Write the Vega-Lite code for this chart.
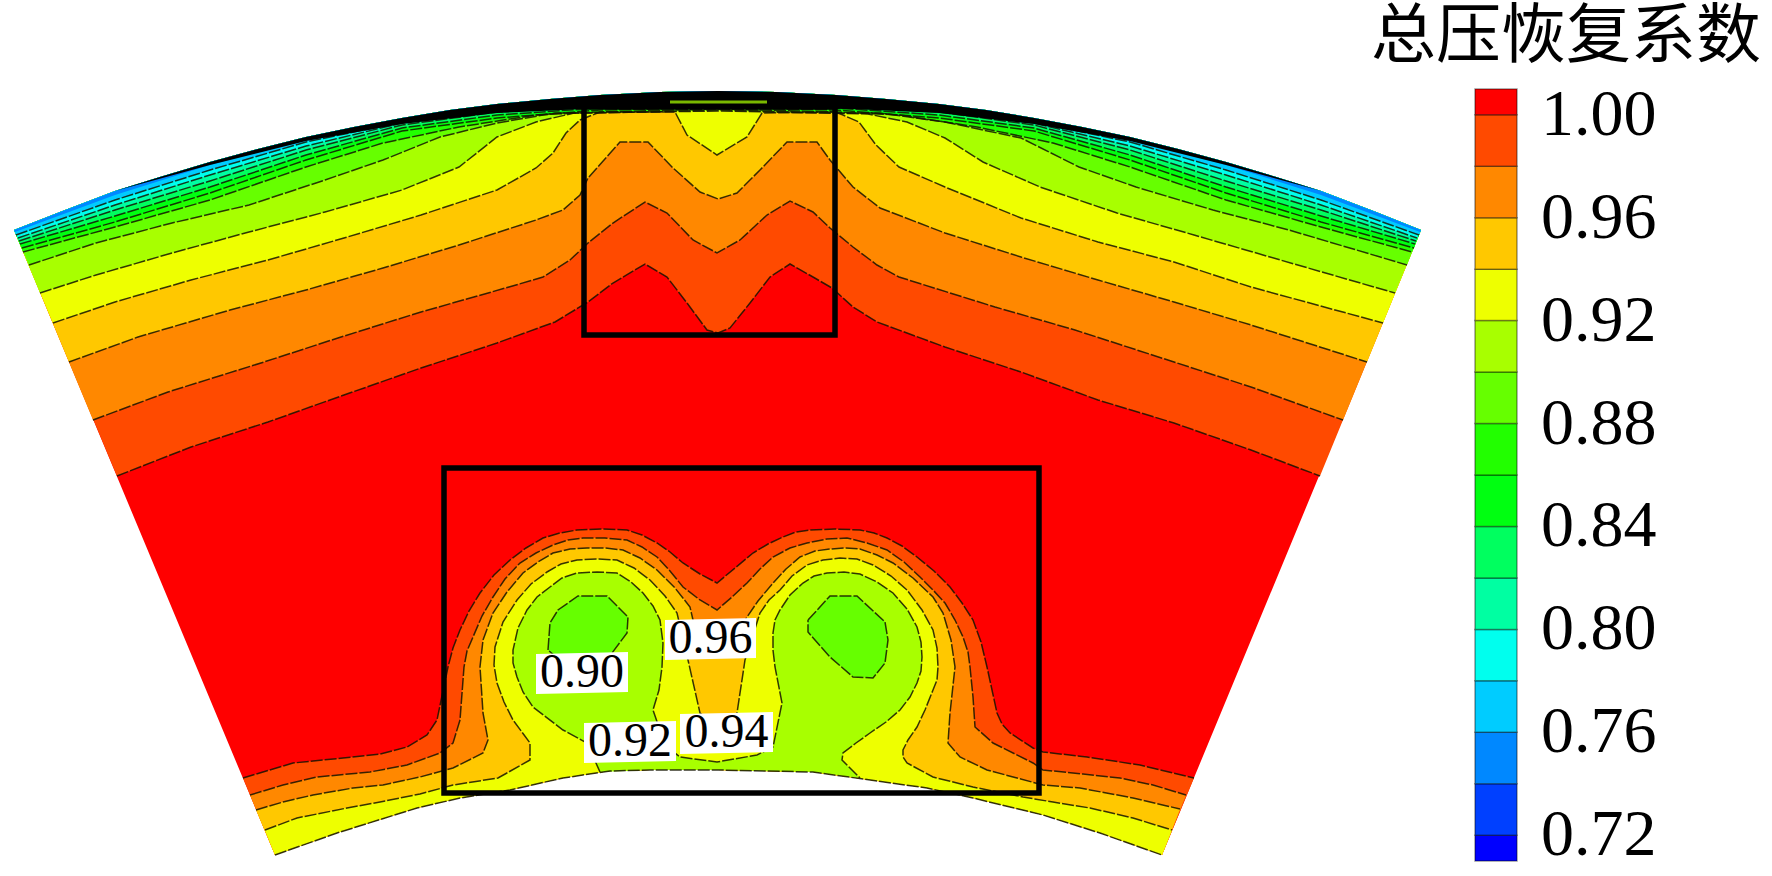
{
"$schema":"https://vega.github.io/schema/vega-lite/v6.json",
"width":1772,"height":876,"padding":0,"autosize":{"type":"none"},"background":"#ffffff",
"config":{"view":{"stroke":null}},
"projection":{"type":"identity","scale":1,"translate":[0,0]},
"layer":[
{"data":{"values":[
{"type":"Feature","properties":{"level":1.005},"geometry":{"type":"Polygon","coordinates":[[[275,855],[14,230],[60,212],[115,191],[160,177],[210,162],[258,149],[306,137],[354,127],[402,118],[450,110],[497,104],[550,99],[600,95],[660,92],[718,91],[776,92],[836,95],[886,99],[939,104],[986,110],[1034,118],[1082,127],[1130,137],[1178,149],[1226,162],[1276,177],[1321,191],[1376,212],[1421,230],[1162,855],[1100,833],[1043,815],[973,798],[927,788],[813,772],[718,770],[650,770],[610,771],[563,778],[510,790],[460,798],[417,808],[337,833],[275,855]]]}},
{"type":"Feature","properties":{"level":0.99},"geometry":{"type":"Polygon","coordinates":[[[117,476],[191,447],[268,422],[344,395],[421,368],[497,343],[555,322],[588,302],[613,283],[645,264],[667,277],[687,303],[707,330],[718,333],[730,328],[750,303],[770,277],[790,264],[813,277],[832,288],[853,307],[877,322],[945,347],[1021,372],[1098,400],[1174,423],[1251,450],[1320,476],[1421,230],[1376,212],[1321,191],[1276,177],[1226,162],[1178,149],[1130,137],[1082,127],[1034,118],[986,110],[939,104],[886,99],[836,95],[776,92],[718,91],[660,92],[600,95],[550,99],[497,104],[450,110],[402,118],[354,127],[306,137],[258,149],[210,162],[160,177],[115,191],[60,212],[14,230],[117,476]]]}},
{"type":"Feature","properties":{"level":0.99},"geometry":{"type":"Polygon","coordinates":[[[243,778],[293,763],[343,758],[380,754],[407,747],[427,735],[437,720],[448,667],[453,648],[460,630],[469,611],[480,593],[494,575],[510,560],[526,548],[543,538],[560,533],[577,530],[602,529],[627,530],[642,535],[657,543],[670,552],[683,563],[700,574],[717,583],[735,568],[753,553],[768,544],[783,537],[796,532],[810,530],[835,529],[860,530],[874,533],[887,538],[902,546],[917,557],[934,571],[950,587],[962,603],[973,620],[981,642],[987,667],[992,690],[997,713],[1002,724],[1010,733],[1033,748],[1043,752],[1087,757],[1140,765],[1194,778],[1162,855],[1100,833],[1043,815],[973,798],[927,788],[813,772],[718,770],[650,770],[610,771],[563,778],[510,790],[460,798],[417,808],[337,833],[275,855],[243,778]]]}},
{"type":"Feature","properties":{"level":0.97},"geometry":{"type":"Polygon","coordinates":[[[93,420],[168,392],[264,362],[341,337],[421,312],[509,287],[543,277],[570,260],[588,243],[613,223],[645,202],[667,213],[693,240],[717,253],[740,240],[767,215],[790,201],[813,212],[830,228],[853,247],[877,265],[899,277],[995,307],[1075,330],[1174,362],[1251,387],[1343,420],[1421,230],[1376,212],[1321,191],[1276,177],[1226,162],[1178,149],[1130,137],[1082,127],[1034,118],[986,110],[939,104],[886,99],[836,95],[776,92],[718,91],[660,92],[600,95],[550,99],[497,104],[450,110],[402,118],[354,127],[306,137],[258,149],[210,162],[160,177],[115,191],[60,212],[14,230],[93,420]]]}},
{"type":"Feature","properties":{"level":0.97},"geometry":{"type":"Polygon","coordinates":[[[250,795],[283,785],[317,777],[370,772],[407,765],[440,753],[453,743],[460,720],[464,667],[467,651],[473,637],[482,616],[493,597],[505,579],[520,563],[536,553],[553,545],[568,540],[583,538],[605,538],[627,540],[642,547],[657,557],[670,571],[683,587],[700,600],[717,610],[732,597],[747,583],[760,569],[773,557],[790,548],[807,543],[827,539],[847,538],[867,543],[887,550],[904,562],[920,577],[933,590],[945,603],[955,620],[963,637],[968,652],[970,667],[973,697],[975,727],[993,743],[1033,763],[1043,770],[1083,774],[1120,778],[1153,785],[1186,795],[1162,855],[1100,833],[1043,815],[973,798],[927,788],[813,772],[718,770],[650,770],[610,771],[563,778],[510,790],[460,798],[417,808],[337,833],[275,855],[250,795]]]}},
{"type":"Feature","properties":{"level":0.95},"geometry":{"type":"Polygon","coordinates":[[[69,362],[138,337],[230,310],[306,290],[383,268],[459,245],[536,220],[563,210],[580,195],[588,178],[620,142],[648,142],[673,168],[700,192],[718,199],[737,193],[760,170],[787,142],[817,142],[830,160],[853,187],[880,208],[945,233],[1021,257],[1098,280],[1174,302],[1251,325],[1367,362],[1421,230],[1376,212],[1321,191],[1276,177],[1226,162],[1178,149],[1130,137],[1082,127],[1034,118],[986,110],[939,104],[886,99],[836,95],[776,92],[718,91],[660,92],[600,95],[550,99],[497,104],[450,110],[402,118],[354,127],[306,137],[258,149],[210,162],[160,177],[115,191],[60,212],[14,230],[69,362]]]}},
{"type":"Feature","properties":{"level":0.95},"geometry":{"type":"Polygon","coordinates":[[[256,810],[283,802],[313,795],[353,788],[383,785],[420,777],[453,768],[483,753],[488,740],[483,713],[480,667],[483,640],[493,613],[507,592],[523,573],[538,562],[553,553],[570,549],[587,548],[605,548],[623,550],[640,558],[657,570],[675,588],[690,607],[693,620],[697,640],[717,647],[738,640],[745,620],[758,601],[773,583],[786,569],[800,557],[815,551],[830,549],[845,548],[860,549],[877,555],[893,563],[913,578],[933,597],[943,613],[951,640],[955,667],[950,713],[948,743],[960,757],[987,770],[1017,778],[1043,785],[1080,788],[1133,798],[1180,809],[1162,855],[1100,833],[1043,815],[973,798],[927,788],[813,772],[718,770],[650,770],[610,771],[563,778],[510,790],[460,798],[417,808],[337,833],[275,855],[256,810]]]}},
{"type":"Feature","properties":{"level":0.93},"geometry":{"type":"Polygon","coordinates":[[[53,323],[115,302],[191,280],[268,260],[344,238],[421,215],[497,190],[536,168],[553,153],[566,133],[580,120],[600,112],[675,112],[687,135],[717,155],[747,137],[762,113],[836,112],[859,122],[876,145],[899,167],[945,187],[1021,218],[1098,242],[1174,262],[1251,287],[1383,323],[1421,230],[1376,212],[1321,191],[1276,177],[1226,162],[1178,149],[1130,137],[1082,127],[1034,118],[986,110],[939,104],[886,99],[836,95],[776,92],[718,91],[660,92],[600,95],[550,99],[497,104],[450,110],[402,118],[354,127],[306,137],[258,149],[210,162],[160,177],[115,191],[60,212],[14,230],[53,323]]]}},
{"type":"Feature","properties":{"level":0.93},"geometry":{"type":"Polygon","coordinates":[[[265,830],[297,818],[347,808],[380,802],[420,794],[453,785],[498,778],[530,760],[530,743],[513,720],[504,702],[497,683],[494,665],[495,647],[503,622],[517,600],[531,584],[547,572],[561,564],[577,560],[597,559],[617,560],[634,568],[650,580],[665,596],[677,613],[688,660],[700,713],[717,727],[737,713],[745,660],[760,613],[769,600],[780,590],[792,576],[807,565],[823,560],[840,558],[857,559],[873,565],[891,576],[907,590],[922,610],[933,630],[937,648],[938,667],[937,680],[933,690],[925,710],[917,727],[908,740],[903,750],[903,757],[907,763],[933,777],[973,787],[1023,797],[1053,802],[1090,808],[1133,818],[1172,830],[1162,855],[1100,833],[1043,815],[973,798],[927,788],[813,772],[718,770],[650,770],[610,771],[563,778],[510,790],[460,798],[417,808],[337,833],[275,855],[265,830]]]}},
{"type":"Feature","properties":{"level":0.91},"geometry":{"type":"Polygon","coordinates":[[[40,293],[96,275],[172,253],[249,232],[325,212],[402,190],[459,167],[497,137],[536,122],[574,113],[718,111],[868,114],[907,122],[945,138],[983,162],[1040,187],[1117,213],[1194,235],[1270,257],[1395,293],[1421,230],[1376,212],[1321,191],[1276,177],[1226,162],[1178,149],[1130,137],[1082,127],[1034,118],[986,110],[939,104],[886,99],[836,95],[776,92],[718,91],[660,92],[600,95],[550,99],[497,104],[450,110],[402,118],[354,127],[306,137],[258,149],[210,162],[160,177],[115,191],[60,212],[14,230],[40,293]]]}},
{"type":"Feature","properties":{"level":0.91},"geometry":{"type":"Polygon","coordinates":[[[600,772],[587,743],[563,730],[533,707],[523,692],[517,677],[513,663],[513,650],[518,628],[527,610],[537,597],[550,587],[562,578],[577,573],[597,572],[617,573],[631,582],[643,593],[653,606],[660,620],[663,643],[662,667],[659,690],[653,710],[665,745],[680,757],[717,762],[757,755],[773,747],[782,703],[775,667],[773,650],[773,633],[775,620],[780,610],[790,595],[803,583],[814,576],[827,573],[844,572],[860,574],[877,582],[893,593],[907,609],[917,627],[921,642],[922,657],[921,671],[917,683],[910,697],[900,710],[886,722],[870,733],[856,743],[843,753],[842,760],[847,765],[860,778],[813,772],[718,770],[650,770],[600,772]]]}},
{"type":"Feature","properties":{"level":0.89},"geometry":{"type":"Polygon","coordinates":[[[29,265],[96,243],[172,223],[249,205],[325,180],[383,160],[440,137],[497,123],[555,113],[600,113],[718,110],[836,113],[880,113],[945,122],[1021,138],[1079,167],[1136,187],[1213,210],[1289,230],[1407,265],[1421,230],[1376,212],[1321,191],[1276,177],[1226,162],[1178,149],[1130,137],[1082,127],[1034,118],[986,110],[939,104],[886,99],[836,95],[776,92],[718,91],[660,92],[600,95],[550,99],[497,104],[450,110],[402,118],[354,127],[306,137],[258,149],[210,162],[160,177],[115,191],[60,212],[14,230],[29,265]]]}},
{"type":"Feature","properties":{"level":0.89},"geometry":{"type":"Polygon","coordinates":[[[548,650],[550,623],[558,610],[578,596],[607,596],[628,617],[627,633],[612,653],[590,663],[563,663],[548,650]]]}},
{"type":"Feature","properties":{"level":0.89},"geometry":{"type":"Polygon","coordinates":[[[808,620],[830,596],[857,596],[885,622],[888,640],[885,663],[873,678],[853,677],[830,657],[808,632],[808,620]]]}},
{"type":"Feature","properties":{"level":0.87},"geometry":{"type":"Polygon","coordinates":[[[23,252],[115,227],[210,200],[306,167],[383,143],[459,127],[536,115],[600,112],[718,109],[836,112],[900,115],[977,127],[1053,143],[1130,167],[1226,200],[1321,227],[1412,252],[1421,230],[1376,212],[1321,191],[1276,177],[1226,162],[1178,149],[1130,137],[1082,127],[1034,118],[986,110],[939,104],[886,99],[836,95],[776,92],[718,91],[660,92],[600,95],[550,99],[497,104],[450,110],[402,118],[354,127],[306,137],[258,149],[210,162],[160,177],[115,191],[60,212],[14,230],[23,252]]]}},
{"type":"Feature","properties":{"level":0.85},"geometry":{"type":"Polygon","coordinates":[[[22,248],[115,222],[210,193],[306,160],[402,131],[497,118],[600,110],[718,108],[836,110],[939,118],[1034,131],[1130,160],[1226,193],[1321,222],[1414,248],[1421,230],[1376,212],[1321,191],[1276,177],[1226,162],[1178,149],[1130,137],[1082,127],[1034,118],[986,110],[939,104],[886,99],[836,95],[776,92],[718,91],[660,92],[600,95],[550,99],[497,104],[450,110],[402,118],[354,127],[306,137],[258,149],[210,162],[160,177],[115,191],[60,212],[14,230],[22,248]]]}},
{"type":"Feature","properties":{"level":0.83},"geometry":{"type":"Polygon","coordinates":[[[20,244],[115,216],[210,187],[306,155],[402,128],[497,115],[600,108],[718,106],[836,108],[939,115],[1034,128],[1130,155],[1226,187],[1321,216],[1415,244],[1421,230],[1376,212],[1321,191],[1276,177],[1226,162],[1178,149],[1130,137],[1082,127],[1034,118],[986,110],[939,104],[886,99],[836,95],[776,92],[718,91],[660,92],[600,95],[550,99],[497,104],[450,110],[402,118],[354,127],[306,137],[258,149],[210,162],[160,177],[115,191],[60,212],[14,230],[20,244]]]}},
{"type":"Feature","properties":{"level":0.81},"geometry":{"type":"Polygon","coordinates":[[[19,241],[115,210],[210,181],[306,150],[402,125],[497,112],[600,106],[718,104],[836,106],[939,112],[1034,125],[1130,150],[1226,181],[1321,210],[1416,241],[1421,230],[1376,212],[1321,191],[1276,177],[1226,162],[1178,149],[1130,137],[1082,127],[1034,118],[986,110],[939,104],[886,99],[836,95],[776,92],[718,91],[660,92],[600,95],[550,99],[497,104],[450,110],[402,118],[354,127],[306,137],[258,149],[210,162],[160,177],[115,191],[60,212],[14,230],[19,241]]]}},
{"type":"Feature","properties":{"level":0.79},"geometry":{"type":"Polygon","coordinates":[[[18,238],[115,205],[210,175],[306,146],[402,123],[497,110],[600,104],[718,102],[836,104],[939,110],[1034,123],[1130,146],[1226,175],[1321,205],[1417,238],[1421,230],[1376,212],[1321,191],[1276,177],[1226,162],[1178,149],[1130,137],[1082,127],[1034,118],[986,110],[939,104],[886,99],[836,95],[776,92],[718,91],[660,92],[600,95],[550,99],[497,104],[450,110],[402,118],[354,127],[306,137],[258,149],[210,162],[160,177],[115,191],[60,212],[14,230],[18,238]]]}},
{"type":"Feature","properties":{"level":0.77},"geometry":{"type":"Polygon","coordinates":[[[16,235],[115,200],[210,170],[306,142],[402,122],[497,108],[600,102],[718,100],[836,102],[939,108],[1034,122],[1130,142],[1226,170],[1321,200],[1419,235],[1421,230],[1376,212],[1321,191],[1276,177],[1226,162],[1178,149],[1130,137],[1082,127],[1034,118],[986,110],[939,104],[886,99],[836,95],[776,92],[718,91],[660,92],[600,95],[550,99],[497,104],[450,110],[402,118],[354,127],[306,137],[258,149],[210,162],[160,177],[115,191],[60,212],[14,230],[16,235]]]}},
{"type":"Feature","properties":{"level":0.75},"geometry":{"type":"Polygon","coordinates":[[[15,232],[115,195],[210,165],[306,139],[402,120],[497,106],[600,100],[718,98],[836,100],[939,106],[1034,120],[1130,139],[1226,165],[1321,195],[1420,232],[1421,230],[1376,212],[1321,191],[1276,177],[1226,162],[1178,149],[1130,137],[1082,127],[1034,118],[986,110],[939,104],[886,99],[836,95],[776,92],[718,91],[660,92],[600,95],[550,99],[497,104],[450,110],[402,118],[354,127],[306,137],[258,149],[210,162],[160,177],[115,191],[60,212],[14,230],[15,232]]]}}
]},
"mark":{"type":"geoshape","stroke":null},
"encoding":{"color":{"field":"properties.level","type":"ordinal",
"scale":{"type":"bin-ordinal","domain":[0.71,0.72,0.74,0.76,0.78,0.80,0.82,0.84,0.86,0.88,0.90,0.92,0.94,0.96,0.98,1.00,1.01],
"range":["#0000ff","#0040ff","#0088ff","#00ccff","#00ffee","#00ffa2","#00ff5f","#00ff11","#22ff00","#66ff00","#a8ff00","#eeff00","#ffc800","#ff8800","#ff4a00","#ff0000"]},
"legend":{"type":"gradient","orient":"none","legendX":1475,"legendY":89,"title":null,"gradientLength":772,"gradientThickness":42,"gradientStrokeColor":"#b8b8b8","gradientStrokeWidth":1,
"labelFont":"Liberation Serif","labelFontSize":66,"labelColor":"#000000","labelOffset":24,"labelOverlap":false,
"labelExpr":"indexof(['0.72','0.76','0.80','0.84','0.88','0.92','0.96','1.00'],format(datum.value,'.2f'))>=0?format(datum.value,'.2f'):''",
"encode":{"gradient":{"update":{"stroke":{"value":"#00000066"},"strokeWidth":{"value":1.5}}}}}}}
},
{"data":{"values":[
{"type":"Feature","properties":{"contour":"1.00 top"},"geometry":{"type":"LineString","coordinates":[[117,476],[191,447],[268,422],[344,395],[421,368],[497,343],[555,322],[588,302],[613,283],[645,264],[667,277],[687,303],[707,330],[718,333],[730,328],[750,303],[770,277],[790,264],[813,277],[832,288],[853,307],[877,322],[945,347],[1021,372],[1098,400],[1174,423],[1251,450],[1320,476]]}},
{"type":"Feature","properties":{"contour":"0.98 top"},"geometry":{"type":"LineString","coordinates":[[93,420],[168,392],[264,362],[341,337],[421,312],[509,287],[543,277],[570,260],[588,243],[613,223],[645,202],[667,213],[693,240],[717,253],[740,240],[767,215],[790,201],[813,212],[830,228],[853,247],[877,265],[899,277],[995,307],[1075,330],[1174,362],[1251,387],[1343,420]]}},
{"type":"Feature","properties":{"contour":"0.96 top"},"geometry":{"type":"LineString","coordinates":[[69,362],[138,337],[230,310],[306,290],[383,268],[459,245],[536,220],[563,210],[580,195],[588,178],[620,142],[648,142],[673,168],[700,192],[718,199],[737,193],[760,170],[787,142],[817,142],[830,160],[853,187],[880,208],[945,233],[1021,257],[1098,280],[1174,302],[1251,325],[1367,362]]}},
{"type":"Feature","properties":{"contour":"0.94 top"},"geometry":{"type":"LineString","coordinates":[[53,323],[115,302],[191,280],[268,260],[344,238],[421,215],[497,190],[536,168],[553,153],[566,133],[580,120],[600,112],[675,112],[687,135],[717,155],[747,137],[762,113],[836,112],[859,122],[876,145],[899,167],[945,187],[1021,218],[1098,242],[1174,262],[1251,287],[1383,323]]}},
{"type":"Feature","properties":{"contour":"0.92 top"},"geometry":{"type":"LineString","coordinates":[[40,293],[96,275],[172,253],[249,232],[325,212],[402,190],[459,167],[497,137],[536,122],[574,113],[718,111],[868,114],[907,122],[945,138],[983,162],[1040,187],[1117,213],[1194,235],[1270,257],[1395,293]]}},
{"type":"Feature","properties":{"contour":"0.90 top"},"geometry":{"type":"LineString","coordinates":[[29,265],[96,243],[172,223],[249,205],[325,180],[383,160],[440,137],[497,123],[555,113],[600,113],[718,110],[836,113],[880,113],[945,122],[1021,138],[1079,167],[1136,187],[1213,210],[1289,230],[1407,265]]}},
{"type":"Feature","properties":{"contour":"0.88 top"},"geometry":{"type":"LineString","coordinates":[[23,252],[115,227],[210,200],[306,167],[383,143],[459,127],[536,115],[600,112],[718,109],[836,112],[900,115],[977,127],[1053,143],[1130,167],[1226,200],[1321,227],[1412,252]]}},
{"type":"Feature","properties":{"contour":"0.86 top"},"geometry":{"type":"LineString","coordinates":[[22,248],[115,222],[210,193],[306,160],[402,131],[497,118],[600,110],[718,108],[836,110],[939,118],[1034,131],[1130,160],[1226,193],[1321,222],[1414,248]]}},
{"type":"Feature","properties":{"contour":"0.84 top"},"geometry":{"type":"LineString","coordinates":[[20,244],[115,216],[210,187],[306,155],[402,128],[497,115],[600,108],[718,106],[836,108],[939,115],[1034,128],[1130,155],[1226,187],[1321,216],[1415,244]]}},
{"type":"Feature","properties":{"contour":"0.82 top"},"geometry":{"type":"LineString","coordinates":[[19,241],[115,210],[210,181],[306,150],[402,125],[497,112],[600,106],[718,104],[836,106],[939,112],[1034,125],[1130,150],[1226,181],[1321,210],[1416,241]]}},
{"type":"Feature","properties":{"contour":"0.80 top"},"geometry":{"type":"LineString","coordinates":[[18,238],[115,205],[210,175],[306,146],[402,123],[497,110],[600,104],[718,102],[836,104],[939,110],[1034,123],[1130,146],[1226,175],[1321,205],[1417,238]]}},
{"type":"Feature","properties":{"contour":"0.78 top"},"geometry":{"type":"LineString","coordinates":[[16,235],[115,200],[210,170],[306,142],[402,122],[497,108],[600,102],[718,100],[836,102],[939,108],[1034,122],[1130,142],[1226,170],[1321,200],[1419,235]]}},
{"type":"Feature","properties":{"contour":"1.00 bottom"},"geometry":{"type":"LineString","coordinates":[[243,778],[293,763],[343,758],[380,754],[407,747],[427,735],[437,720],[448,667],[453,648],[460,630],[469,611],[480,593],[494,575],[510,560],[526,548],[543,538],[560,533],[577,530],[602,529],[627,530],[642,535],[657,543],[670,552],[683,563],[700,574],[717,583],[735,568],[753,553],[768,544],[783,537],[796,532],[810,530],[835,529],[860,530],[874,533],[887,538],[902,546],[917,557],[934,571],[950,587],[962,603],[973,620],[981,642],[987,667],[992,690],[997,713],[1002,724],[1010,733],[1033,748],[1043,752],[1087,757],[1140,765],[1194,778]]}},
{"type":"Feature","properties":{"contour":"0.98 bottom"},"geometry":{"type":"LineString","coordinates":[[250,795],[283,785],[317,777],[370,772],[407,765],[440,753],[453,743],[460,720],[464,667],[467,651],[473,637],[482,616],[493,597],[505,579],[520,563],[536,553],[553,545],[568,540],[583,538],[605,538],[627,540],[642,547],[657,557],[670,571],[683,587],[700,600],[717,610],[732,597],[747,583],[760,569],[773,557],[790,548],[807,543],[827,539],[847,538],[867,543],[887,550],[904,562],[920,577],[933,590],[945,603],[955,620],[963,637],[968,652],[970,667],[973,697],[975,727],[993,743],[1033,763],[1043,770],[1083,774],[1120,778],[1153,785],[1186,795]]}},
{"type":"Feature","properties":{"contour":"0.96 bottom"},"geometry":{"type":"LineString","coordinates":[[256,810],[283,802],[313,795],[353,788],[383,785],[420,777],[453,768],[483,753],[488,740],[483,713],[480,667],[483,640],[493,613],[507,592],[523,573],[538,562],[553,553],[570,549],[587,548],[605,548],[623,550],[640,558],[657,570],[675,588],[690,607],[693,620],[697,640],[717,647],[738,640],[745,620],[758,601],[773,583],[786,569],[800,557],[815,551],[830,549],[845,548],[860,549],[877,555],[893,563],[913,578],[933,597],[943,613],[951,640],[955,667],[950,713],[948,743],[960,757],[987,770],[1017,778],[1043,785],[1080,788],[1133,798],[1180,809]]}},
{"type":"Feature","properties":{"contour":"0.94 bottom"},"geometry":{"type":"LineString","coordinates":[[265,830],[297,818],[347,808],[380,802],[420,794],[453,785],[498,778],[530,760],[530,743],[513,720],[504,702],[497,683],[494,665],[495,647],[503,622],[517,600],[531,584],[547,572],[561,564],[577,560],[597,559],[617,560],[634,568],[650,580],[665,596],[677,613],[688,660],[700,713],[717,727],[737,713],[745,660],[760,613],[769,600],[780,590],[792,576],[807,565],[823,560],[840,558],[857,559],[873,565],[891,576],[907,590],[922,610],[933,630],[937,648],[938,667],[937,680],[933,690],[925,710],[917,727],[908,740],[903,750],[903,757],[907,763],[933,777],[973,787],[1023,797],[1053,802],[1090,808],[1133,818],[1172,830]]}},
{"type":"Feature","properties":{"contour":"0.92 bottom"},"geometry":{"type":"LineString","coordinates":[[600,772],[587,743],[563,730],[533,707],[523,692],[517,677],[513,663],[513,650],[518,628],[527,610],[537,597],[550,587],[562,578],[577,573],[597,572],[617,573],[631,582],[643,593],[653,606],[660,620],[663,643],[662,667],[659,690],[653,710],[665,745],[680,757],[717,762],[757,755],[773,747],[782,703],[775,667],[773,650],[773,633],[775,620],[780,610],[790,595],[803,583],[814,576],[827,573],[844,572],[860,574],[877,582],[893,593],[907,609],[917,627],[921,642],[922,657],[921,671],[917,683],[910,697],[900,710],[886,722],[870,733],[856,743],[843,753],[842,760],[847,765],[860,778]]}},
{"type":"Feature","properties":{"contour":"0.90 left"},"geometry":{"type":"LineString","coordinates":[[548,650],[550,623],[558,610],[578,596],[607,596],[628,617],[627,633],[612,653],[590,663],[563,663],[548,650]]}},
{"type":"Feature","properties":{"contour":"0.90 right"},"geometry":{"type":"LineString","coordinates":[[808,620],[830,596],[857,596],[885,622],[888,640],[885,663],[873,678],[853,677],[830,657],[808,632],[808,620]]}},
{"type":"Feature","properties":{"contour":"inner wall"},"geometry":{"type":"LineString","coordinates":[[275,855],[337,833],[417,808],[460,798],[510,790],[563,778],[610,771],[650,770],[718,770],[813,772],[927,788],[973,798],[1043,815],[1100,833],[1162,855]]}}
]},
"mark":{"type":"geoshape","filled":false,"stroke":"#141400","strokeWidth":1.5,"strokeOpacity":0.85,"strokeDash":[12,2]},
"encoding":{}
},
{"data":{"values":[
{"type":"Feature","properties":{"part":"outer wall"},"geometry":{"type":"Polygon","coordinates":[[[115,191],[160,177],[210,162],[258,149],[306,137],[354,127],[402,118],[450,110],[497,104],[550,99],[600,95],[660,92],[718,91],[776,92],[836,95],[886,99],[939,104],[986,110],[1034,118],[1082,127],[1130,137],[1178,149],[1226,162],[1276,177],[1321,191],[1226,165],[1130,141],[1034,124],[939,113],[852,109],[718,108],[584,109],[497,113],[402,124],[306,141],[210,165],[115,191]]]}}
]},
"mark":{"type":"geoshape","fill":"#000000","stroke":null},
"encoding":{}
},
{"data":{"values":[
{"type":"Feature","properties":{"part":"wall gap"},"geometry":{"type":"LineString","coordinates":[[670,102],[767,102]]}}
]},
"mark":{"type":"geoshape","filled":false,"stroke":"#7ab800","strokeWidth":3},
"encoding":{}
},
{"data":{"values":[
{"type":"Feature","properties":{"box":"top"},"geometry":{"type":"Polygon","coordinates":[[[584,107],[835,107],[835,335],[584,335],[584,107]]]}},
{"type":"Feature","properties":{"box":"bottom"},"geometry":{"type":"Polygon","coordinates":[[[444,468],[1039,468],[1039,793],[444,793],[444,468]]]}}
]},
"mark":{"type":"geoshape","filled":false,"stroke":"#000000","strokeWidth":5.5,"strokeJoin":"miter"},
"encoding":{}
},
{"data":{"values":[
{"type":"Feature","properties":{"label":"0.96"},"geometry":{"type":"Polygon","coordinates":[[[665,620],[756,618],[756,658],[665,660],[665,620]]]}},
{"type":"Feature","properties":{"label":"0.90"},"geometry":{"type":"Polygon","coordinates":[[[536,654],[628,652],[628,692],[536,694],[536,654]]]}},
{"type":"Feature","properties":{"label":"0.92"},"geometry":{"type":"Polygon","coordinates":[[[584,723],[676,721],[676,761],[584,763],[584,723]]]}},
{"type":"Feature","properties":{"label":"0.94"},"geometry":{"type":"Polygon","coordinates":[[[680,714],[773,712],[773,752],[680,754],[680,714]]]}}
]},
"mark":{"type":"geoshape","fill":"#ffffff","stroke":null},
"encoding":{}
},
{"data":{"values":[
{"label":"0.96","lon":710.5,"lat":639},
{"label":"0.90","lon":582,"lat":673},
{"label":"0.92","lon":630,"lat":742},
{"label":"0.94","lon":726.5,"lat":733}
]},
"mark":{"type":"text","font":"Liberation Serif","fontSize":48,"align":"center","baseline":"middle","color":"#000000"},
"encoding":{"longitude":{"field":"lon","type":"quantitative"},"latitude":{"field":"lat","type":"quantitative"},"text":{"field":"label","type":"nominal"}}
},
{"data":{"values":[{"label":"总压恢复系数","lon":1566,"lat":37}]},
"mark":{"type":"text","font":"Noto Sans CJK SC","fontSize":65,"align":"center","baseline":"middle","color":"#000000"},
"encoding":{"longitude":{"field":"lon","type":"quantitative"},"latitude":{"field":"lat","type":"quantitative"},"text":{"field":"label","type":"nominal"}}
}
]
}
